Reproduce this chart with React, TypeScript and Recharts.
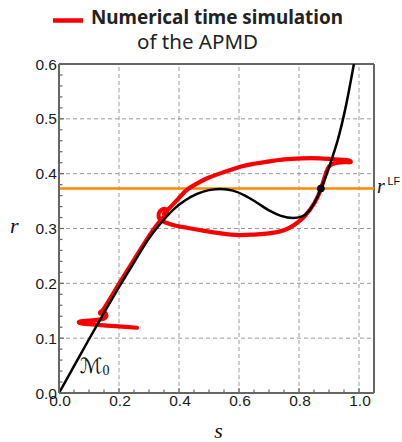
import React from 'react';
import { LineChart, Line, XAxis, YAxis, ReferenceLine, ReferenceDot, Label } from 'recharts';

// Axis ticks (minor + major)
const sTicks = [0, 0.05, 0.1, 0.15, 0.2, 0.25, 0.3, 0.35, 0.4, 0.45, 0.5, 0.55, 0.6, 0.65, 0.7, 0.75, 0.8, 0.85, 0.9, 0.95, 1.0, 1.05];
const rTicks = [0, 0.02, 0.04, 0.06, 0.08, 0.1, 0.12, 0.14, 0.16, 0.18, 0.2, 0.22, 0.24, 0.26, 0.28, 0.3, 0.32, 0.34, 0.36, 0.38, 0.4, 0.42, 0.44, 0.46, 0.48, 0.5, 0.52, 0.54, 0.56, 0.58, 0.6];
const gridS = [0.2, 0.4, 0.6, 0.8, 1.0];
const gridR = [0.1, 0.2, 0.3, 0.4, 0.5];

// Critical manifold M0
const manifoldS = [0, 0.05, 0.1, 0.15, 0.2, 0.25, 0.3, 0.34, 0.38, 0.42, 0.46, 0.5, 0.54, 0.58, 0.62, 0.66, 0.7, 0.74, 0.78, 0.81, 0.84, 0.86, 0.873, 0.89, 0.91, 0.93, 0.955, 0.983];
const manifoldR = [0, 0.049, 0.098, 0.146, 0.193, 0.238, 0.282, 0.31, 0.334, 0.351, 0.363, 0.37, 0.372, 0.369, 0.36, 0.347, 0.333, 0.323, 0.319, 0.322, 0.337, 0.356, 0.372, 0.396, 0.428, 0.463, 0.52, 0.6];

// Numerical time simulation trajectory (in time order)
const trajS = [0.26, 0.21, 0.16, 0.11, 0.075, 0.066, 0.08, 0.12, 0.15, 0.158, 0.152, 0.14, 0.137, 0.145, 0.165, 0.2, 0.25, 0.3, 0.33, 0.352, 0.36, 0.352, 0.336, 0.332, 0.34, 0.355, 0.39, 0.43, 0.48, 0.54, 0.6, 0.65, 0.7, 0.75, 0.785, 0.818, 0.851, 0.873, 0.888, 0.9, 0.92, 0.95, 0.972, 0.96, 0.92, 0.87, 0.807, 0.75, 0.696, 0.65, 0.607, 0.54, 0.5, 0.473, 0.43, 0.407, 0.38, 0.36, 0.35];
const trajR = [0.119, 0.121, 0.123, 0.125, 0.127, 0.129, 0.131, 0.133, 0.136, 0.141, 0.147, 0.149, 0.145, 0.15, 0.167, 0.199, 0.243, 0.286, 0.309, 0.323, 0.331, 0.336, 0.331, 0.322, 0.315, 0.311, 0.305, 0.301, 0.296, 0.291, 0.288, 0.289, 0.291, 0.297, 0.307, 0.322, 0.346, 0.372, 0.398, 0.413, 0.419, 0.421, 0.421, 0.425, 0.426, 0.428, 0.428, 0.426, 0.422, 0.418, 0.413, 0.401, 0.393, 0.386, 0.372, 0.36, 0.344, 0.333, 0.327];

const rLF = 0.373;
const fixedS = 0.873;

const manifold = manifoldS.map((s, i) => ({ s, r: manifoldR[i] }));
const trajectory = trajS.map((s, i) => ({ s, r: trajR[i] }));

const AX = '#666666';
const TICK_FONT = 'Liberation Sans, Arial, Helvetica, sans-serif';

const isMajor = (v: number, step: number) => Math.abs(v / step - Math.round(v / step)) < 1e-6;

const XTick = (props: any) => {
  const { x, y, payload } = props;
  const v = payload.value as number;
  const major = isMajor(v, 0.2) && v <= 1.0001;
  return (
    <g>
      <line x1={x} x2={x} y1={y} y2={y - (major ? 5 : 3.5)} stroke={AX} strokeWidth={1.2} />
      {major && (
        <text x={x + 1} y={y + 13} textAnchor="middle" fontSize={15.5} fontFamily={TICK_FONT} fill="#1a1a1a">
          {v.toFixed(1)}
        </text>
      )}
    </g>
  );
};

const YTick = (props: any) => {
  const { x, y, payload } = props;
  const v = payload.value as number;
  const major = isMajor(v, 0.1);
  return (
    <g>
      <line x1={x} x2={x + (major ? 5 : 3.5)} y1={y} y2={y} stroke={AX} strokeWidth={1.2} />
      {major && (
        <text x={x - 2} y={y + 5.5} textAnchor="end" fontSize={15.5} fontFamily={TICK_FONT} fill="#1a1a1a">
          {v.toFixed(1)}
        </text>
      )}
    </g>
  );
};

const SLabel = (props: any) => {
  const vb = props.viewBox || {};
  return (
    <text x={vb.x + vb.width / 2 + 2} y={vb.y + vb.height - 4} textAnchor="middle" fontFamily="Liberation Serif, serif" fontStyle="italic" fontSize={22} fill="#111">
      s
    </text>
  );
};

const RLabel = (props: any) => {
  const vb = props.viewBox || {};
  return (
    <text x={vb.x + 10} y={vb.y + vb.height / 2 + 4} fontFamily="Liberation Serif, serif" fontStyle="italic" fontSize={22} fill="#111">
      r
    </text>
  );
};

export default function App() {
  return (
    <div style={{ position: 'fixed', left: 0, top: 0, width: 402, height: 442, background: '#fff', overflow: 'hidden' }}>
      <LineChart width={402} height={442} margin={{ top: 64, right: 28, bottom: 0, left: 0 }}>
        <XAxis
          dataKey="s"
          type="number"
          domain={[0, 1.05]}
          allowDataOverflow
          ticks={sTicks}
          interval={0}
          tick={<XTick />}
          tickLine={false}
          tickSize={0}
          tickMargin={0}
          height={49}
          axisLine={{ stroke: AX, strokeWidth: 2 }}
        >
          <Label content={SLabel} />
        </XAxis>
        <YAxis
          dataKey="r"
          type="number"
          domain={[0, 0.6]}
          allowDataOverflow
          ticks={rTicks}
          interval={0}
          tick={<YTick />}
          tickLine={false}
          tickSize={0}
          tickMargin={0}
          width={59}
          axisLine={{ stroke: AX, strokeWidth: 2 }}
        >
          <Label content={RLabel} />
        </YAxis>
        {gridS.map((v) => (
          <ReferenceLine key={'gs' + v} x={v} stroke="#9c9c9c" strokeWidth={1} strokeDasharray="4 3" />
        ))}
        {gridR.map((v) => (
          <ReferenceLine key={'gr' + v} y={v} stroke="#9c9c9c" strokeWidth={1} strokeDasharray="4 3" />
        ))}
        <ReferenceLine y={0.6} stroke={AX} strokeWidth={2} />
        <ReferenceLine x={1.05} stroke={AX} strokeWidth={2} />
        <ReferenceLine y={rLF} stroke="#ff8a00" strokeWidth={2.5} />
        <Line
          data={trajectory}
          dataKey="r"
          type="natural"
          stroke="#f80000"
          strokeWidth={4.2}
          strokeLinecap="round"
          strokeLinejoin="round"
          dot={false}
          activeDot={false}
          isAnimationActive={false}
        />
        <Line
          data={manifold}
          dataKey="r"
          type="monotone"
          stroke="#000"
          strokeWidth={2.5}
          dot={false}
          activeDot={false}
          isAnimationActive={false}
        />
        <ReferenceDot x={fixedS} y={rLF} r={3.5} fill="#000" stroke="#000" />
      </LineChart>
      <svg width={402} height={442} style={{ position: 'absolute', left: 0, top: 0, pointerEvents: 'none' }}>
        <line x1={53} x2={83} y1={20.5} y2={20.5} stroke="#f80000" strokeWidth={4.5} />
        <text x={91} y={24} fontFamily="Noto Sans, sans-serif" fontWeight="bold" fontSize={19} fill="#222" textLength={252} lengthAdjust="spacingAndGlyphs">
          Numerical time simulation
        </text>
        <text x={137} y={48.5} fontFamily="Noto Sans, sans-serif" fontSize={19} fill="#222" textLength={121} lengthAdjust="spacingAndGlyphs">
          of the APMD
        </text>
        <text x={377} y={193} fontFamily="Liberation Serif, serif" fontStyle="italic" fontSize={20} fill="#111">r</text>
        <text x={387.5} y={185} fontFamily={TICK_FONT} fontSize={10.5} fill="#111" textLength={12.5} lengthAdjust="spacingAndGlyphs">LF</text>
        <text x={80} y={373} fill="#111">
          <tspan fontFamily="DejaVu Serif, DejaVu Sans, serif" fontStyle="italic" fontSize={21}>ℳ</tspan>
          <tspan fontFamily="Liberation Serif, serif" fontSize={14} dy={2}>0</tspan>
        </text>
      </svg>
    </div>
  );
}
